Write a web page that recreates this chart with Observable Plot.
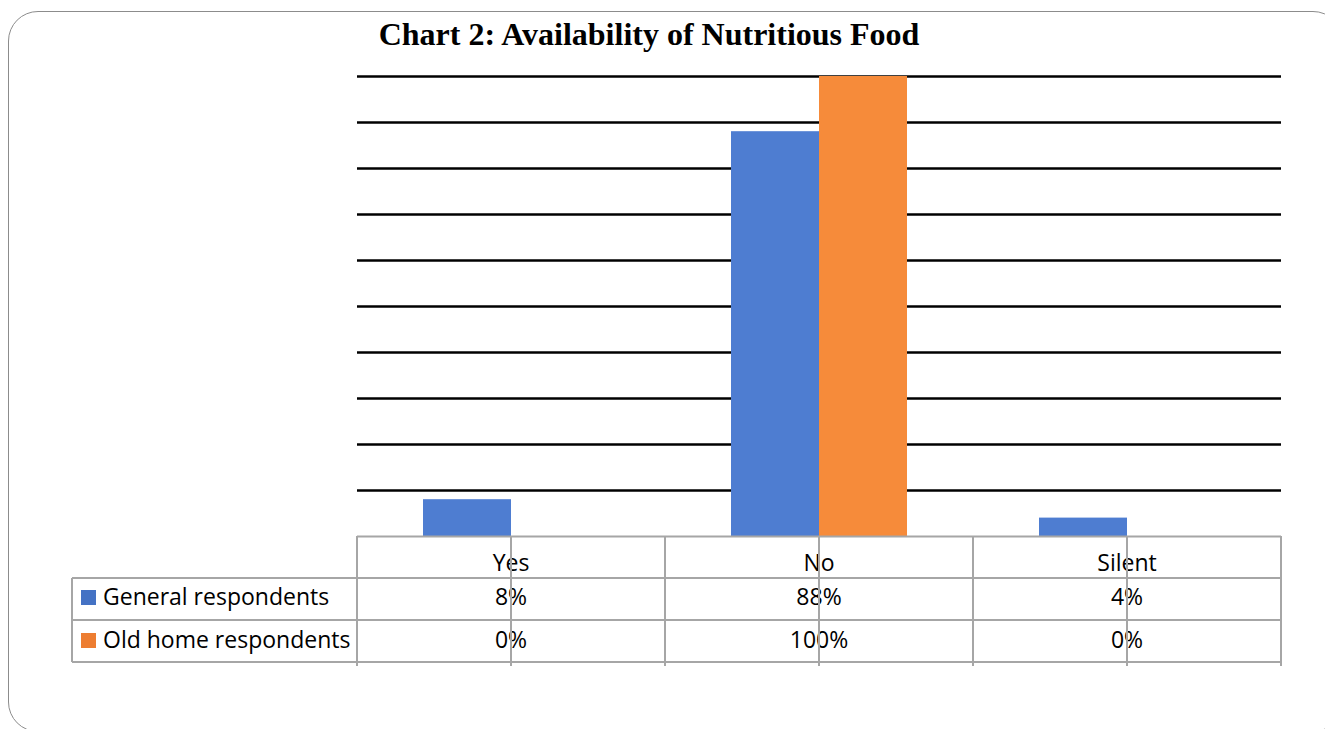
<!DOCTYPE html>
<html>
<head>
<meta charset="utf-8">
<script src="https://cdn.jsdelivr.net/npm/d3@7"></script>
<script src="https://cdn.jsdelivr.net/npm/@observablehq/plot@0.6"></script>
<style>
  html, body { margin: 0; padding: 0; background: #fff; }
  #wrap { position: relative; width: 1325px; height: 729px; overflow: hidden; background: #fff; }
  #frame { position: absolute; left: 8px; top: 11px; width: 1335px; height: 721px; border: 1.5px solid #8c8c8c; border-radius: 30px; box-sizing: border-box; }
  #title { position: absolute; left: 0; top: 18px; width: 1298px; text-align: center; font-family: "Liberation Serif", "Times New Roman", serif; font-weight: bold; font-size: 32px; line-height: 32px; color: #000; }
  #chart { position: absolute; left: 0; top: 62px; }
  #table { position: absolute; left: 0; top: 536px; width: 1325px; height: 140px; font-family: "Open Sans", sans-serif; font-size: 23px; color: #000; }
  .cell { position: absolute; box-sizing: border-box; display: flex; align-items: center; justify-content: center; white-space: nowrap; }
  .hl, .vl { position: absolute; background: #a6a6a6; }
  .sw { display: inline-block; width: 15px; height: 15px; margin-right: 7px; position: relative; top: 1px; }
</style>
</head>
<body>
<div id="wrap">
  <div id="frame"></div>
  <div id="title">Chart 2: Availability of Nutritious Food</div>
  <div id="chart"></div>
  <div id="table"></div>
</div>
<script>
// ---- data ----
const categories = ["Yes", "No", "Silent"];
const seriesNames = ["General respondents", "Old home respondents"];
const generalValues = [8, 88, 4];
const oldHomeValues = [0, 100, 0];
const gridValues = [10, 20, 30, 40, 50, 60, 70, 80, 90, 100];
const barColors = ["#4e7dd1", "#f68b3a"];
const legendColors = ["#4472c4", "#ed7d31"];

// ---- layout ----
const W = 1325, H = 480;
const mL = 357, mR = 44, mT = 14, mB = 6;

const rows = categories.flatMap((c, i) => [
  {category: c, series: seriesNames[0], value: generalValues[i]},
  {category: c, series: seriesNames[1], value: oldHomeValues[i]}
]);

const chart = Plot.plot({
  width: W, height: H,
  marginLeft: mL, marginRight: mR, marginTop: mT, marginBottom: mB,
  fx: {domain: categories, padding: 0, axis: null, label: null},
  x: {domain: seriesNames, paddingInner: 0, paddingOuter: 0.75, axis: null},
  y: {domain: [0, 100], axis: null},
  color: {domain: seriesNames, range: barColors},
  marks: [
    Plot.ruleY(gridValues, {stroke: "#000", strokeWidth: 2.5}),
    Plot.barY(rows, {fx: "category", x: "series", y: "value", fill: "series"}),
    Plot.ruleY([0], {stroke: "#a6a6a6", strokeWidth: 2})
  ]
});
document.getElementById("chart").appendChild(chart);

// ---- data table below the plot, aligned to the facet bands ----
const table = document.getElementById("table");
const plotLeft = mL, plotRight = W - mR;
const colW = (plotRight - plotLeft) / categories.length;
const legendLeft = 72;
const rowH = 42;
const line = 2;

function add(cls, style, html) {
  const d = document.createElement("div");
  d.className = cls;
  Object.assign(d.style, style);
  if (html != null) d.innerHTML = html;
  table.appendChild(d);
  return d;
}

// header row labels (sit low in their cell)
categories.forEach((c, i) => {
  add("cell", {left: (plotLeft + i * colW) + "px", top: "5px", width: colW + "px", height: rowH + "px"}, c);
});
// series rows
const seriesValues = [generalValues, oldHomeValues];
seriesNames.forEach((s, r) => {
  const top = rowH * (r + 1) - 3 + r;
  add("cell", {left: legendLeft + "px", top: top + "px", width: (plotLeft - legendLeft) + "px", height: rowH + "px", justifyContent: "flex-start", paddingLeft: "9px"},
    `<span class="sw" style="background:${legendColors[r]}"></span>${s}`);
  seriesValues[r].forEach((v, i) => {
    add("cell", {left: (plotLeft + i * colW) + "px", top: top + "px", width: colW + "px", height: rowH + "px"}, v + "%");
  });
});
// horizontal lines
for (let r = 1; r <= 3; r++) {
  add("hl", {left: legendLeft + "px", top: (rowH * r - 1) + "px", width: (plotRight - legendLeft + 1) + "px", height: line + "px"});
}
// vertical lines: column boundaries
for (let i = 0; i <= categories.length; i++) {
  add("vl", {left: (plotLeft + i * colW - 1) + "px", top: "0px", width: line + "px", height: (3 * rowH + 4) + "px"});
}
add("vl", {left: (legendLeft - 1) + "px", top: rowH + "px", width: line + "px", height: (2 * rowH) + "px"});
// tick lines at the category centres
for (let i = 0; i < categories.length; i++) {
  add("vl", {left: (plotLeft + (i + 0.5) * colW - 1) + "px", top: "0px", width: line + "px", height: (3 * rowH + 4) + "px"});
}
</script>
</body>
</html>
